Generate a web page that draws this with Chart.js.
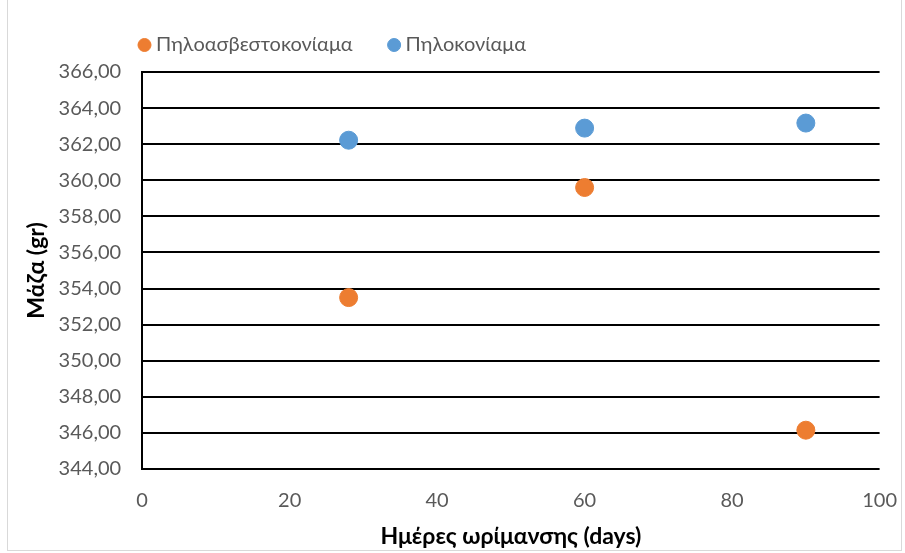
<!DOCTYPE html>
<html>
<head>
<meta charset="utf-8">
<script src="https://cdn.jsdelivr.net/npm/chart.js@4"></script>
<style>
  body { margin: 0; background: #fff; overflow: hidden; }
  #frame { position: absolute; left: 7px; top: 0; width: 893px; height: 550px; border: 1px solid #d9d9d9; border-top: none; }
  #wrap { position: absolute; left: 8px; top: 0; width: 901px; height: 550px; }
  canvas { display: block; }
</style>
</head>
<body>
<div id="frame"></div>
<div id="wrap"><canvas id="chart"></canvas></div>
<script>
// curing days and measured mass (gr)
const days = [28, 60, 90];
const massLimeClay = [353.5, 359.6, 346.15];
const massClay = [362.22, 362.89, 363.17];
const seriesNames = ["Πηλοασβεστοκονίαμα", "Πηλοκονίαμα"];
const yTicksMin = 344, yTicksMax = 366, yStep = 2;
const xTicksMin = 0, xTicksMax = 100, xStep = 20;

const FONT = "Lato, 'Open Sans', sans-serif";
const toPts = vals => days.map((d, i) => ({ x: d, y: vals[i] }));

// move the legend over the plot's left edge instead of the canvas edge
const legendShift = {
  id: "legendShift",
  afterLayout(chart) {
    const l = chart.legend;
    l.left += 84; l.right += 84;
    l.top -= 7; l.bottom -= 7;
  }
};

new Chart(document.getElementById("chart"), {
  type: "scatter",
  data: {
    datasets: [
      { label: seriesNames[0], data: toPts(massLimeClay), backgroundColor: "#ED7D31", borderColor: "#ED7D31", pointRadius: 9, pointHoverRadius: 9 },
      { label: seriesNames[1], data: toPts(massClay), backgroundColor: "#5B9BD5", borderColor: "#5B9BD5", pointRadius: 9, pointHoverRadius: 9 }
    ]
  },
  plugins: [legendShift],
  options: {
    responsive: true,
    maintainAspectRatio: false,
    animation: false,
    layout: { padding: { left: 11, right: 0, top: 2, bottom: 2 } },
    plugins: {
      legend: {
        align: "start",
        labels: {
          usePointStyle: true, pointStyle: "circle", boxWidth: 3, boxHeight: 9.2,
          color: "#595959", font: { family: FONT, size: 20 }, padding: 40
        }
      },
      tooltip: { enabled: false }
    },
    scales: {
      x: {
        type: "linear", min: xTicksMin, max: xTicksMax,
        ticks: { stepSize: xStep, color: "#595959", font: { family: FONT, size: 20 }, padding: 12 },
        grid: { display: false },
        border: { display: false },
        title: { display: true, text: "Ημέρες ωρίμανσης (days)", color: "#000", font: { family: FONT, size: 23, weight: "bold", lineHeight: 1 }, padding: { top: 0, bottom: 0 } }
      },
      y: {
        min: yTicksMin, max: yTicksMax,
        ticks: { stepSize: yStep, color: "#595959", font: { family: FONT, size: 20 }, padding: 21,
          callback: v => v.toFixed(2).replace(".", ",") },
        grid: { color: "#000", lineWidth: 2, drawTicks: false },
        border: { display: true, color: "#000", width: 2 },
        title: { display: true, text: "Μάζα (gr)", color: "#000", font: { family: FONT, size: 23, weight: "bold" }, padding: { top: 4, bottom: -13 } }
      }
    }
  }
});
</script>
</body>
</html>
